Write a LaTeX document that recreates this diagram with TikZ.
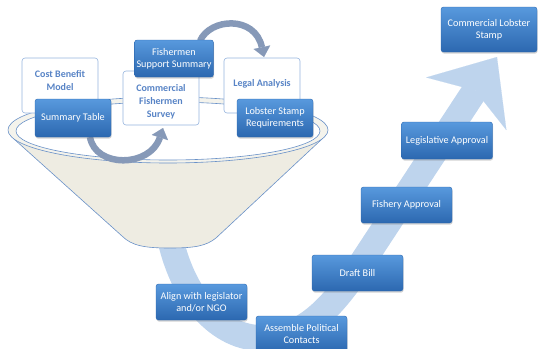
\documentclass[tikz,border=0pt]{standalone}
\usepackage{fontspec}
\setmainfont{Carlito}
\usetikzlibrary{arrows.meta,shadows}
\definecolor{boxtop}{RGB}{88,153,221}
\definecolor{boxbottom}{RGB}{44,104,176}
\definecolor{paleedge}{RGB}{150,180,222}
\definecolor{paletext}{RGB}{88,132,198}
\definecolor{funnelfill}{RGB}{238,236,226}
\definecolor{rimfill}{RGB}{244,243,236}
\definecolor{funneledge}{RGB}{105,145,200}
\definecolor{flowblue}{RGB}{190,212,237}
\definecolor{cyclegrey}{RGB}{134,153,184}
\tikzset{
  bluebox/.style={rectangle, rounded corners=2.5pt, draw=boxbottom, line width=0.4pt,
    top color=boxtop, bottom color=boxbottom, text=white, align=center,
    font=\fontsize{10.2}{11.8}\selectfont, inner sep=2pt,
    minimum width=91pt, minimum height=36pt,
    drop shadow={opacity=0.35, shadow xshift=0.6pt, shadow yshift=-1.6pt}},
  palebox/.style={rectangle, rounded corners=3pt, draw=paleedge, line width=0.6pt,
    fill=white, text=paletext, align=center,
    font=\bfseries\fontsize{10}{13}\selectfont, inner sep=2pt,
    minimum width=76pt, minimum height=55pt},
  cyclearrow/.style={line width=6.5pt, draw=cyclegrey,
    -{Triangle[width=17pt,length=10pt,line width=0.1pt]}},
  flowband/.style={line width=26pt, draw=flowblue,
    -{Stealth[length=56pt,width=96pt,inset=16pt,line width=0.1pt]}}
}

\begin{document}
\begin{tikzpicture}[x=1pt,y=-1pt]
\useasboundingbox (0,0) rectangle (540,348);

% Flow from funnel up to the stamp
\coordinate (funnelbase) at (170,238);
\coordinate (bend) at (265,338);
\coordinate (stamptip) at (497,57);
\draw [flowband] (funnelbase) .. controls (185,305) and (225,340) .. (bend)
  .. controls (305,338) and (335,305) .. (365,258) -- (stamptip);

% Draw funnel
\fill [funnelfill, draw=funneledge, line width=0.6pt] (14,139) -- (122,236)
  .. controls (132,246) and (145,248) .. (170,248)
  .. controls (195,248) and (206,246) .. (216,238) -- (322,139) -- cycle;
\draw [funneledge, fill=rimfill, line width=0.6pt] (168,130) ellipse [x radius=160pt, y radius=33pt];
\draw [funneledge, fill=white, line width=0.6pt] (168,131) ellipse [x radius=152pt, y radius=29pt];

% Cycle arrows between the inputs
\coordinate (loopA) at (90,137);
\coordinate (loopB) at (163,128);
\coordinate (loopC) at (200,41);
\coordinate (loopD) at (264,57);
\draw [cyclearrow] (loopA) .. controls (95,168) and (150,168) .. (loopB);
\draw [cyclearrow] (loopC) .. controls (210,18) and (255,15) .. (loopD);

% Inputs in the funnel
\node[palebox] (costbenefit) at (60,85.5) {Cost Benefit\\Model\rule[-10pt]{0pt}{10pt}};
\node[palebox, minimum height=54pt] (survey) at (161,98) {\rule{0pt}{15pt}Commercial\\Fishermen\\Survey};
\node[palebox] (legal) at (262,85.5) {Legal Analysis\rule[-6pt]{0pt}{6pt}};

\node[bluebox, minimum width=76pt, minimum height=38pt] (sumtable) at (73,118) {Summary Table};
\node[bluebox, minimum width=76pt, minimum height=37pt] (support) at (174,58.5) {Fishermen\\Support Summary};
\node[bluebox, minimum width=76pt, minimum height=38pt] (requirements) at (275,118) {Lobster Stamp\\Requirements};

% Steps along the flow
\node[bluebox] (align) at (201.5,302) {Align with legislator\\and/or NGO};
\node[bluebox] (contacts) at (301.5,334) {Assemble Political\\Contacts};
\node[bluebox] (draftbill) at (357.5,273) {Draft Bill};
\node[bluebox] (fishery) at (406.5,205) {Fishery Approval};
\node[bluebox, minimum height=37pt] (legislative) at (447,140.5) {Legislative Approval};
\node[bluebox, minimum width=96pt, minimum height=45pt] (stamp) at (489,29.5) {Commercial Lobster\\Stamp};

\end{tikzpicture}
\end{document}
